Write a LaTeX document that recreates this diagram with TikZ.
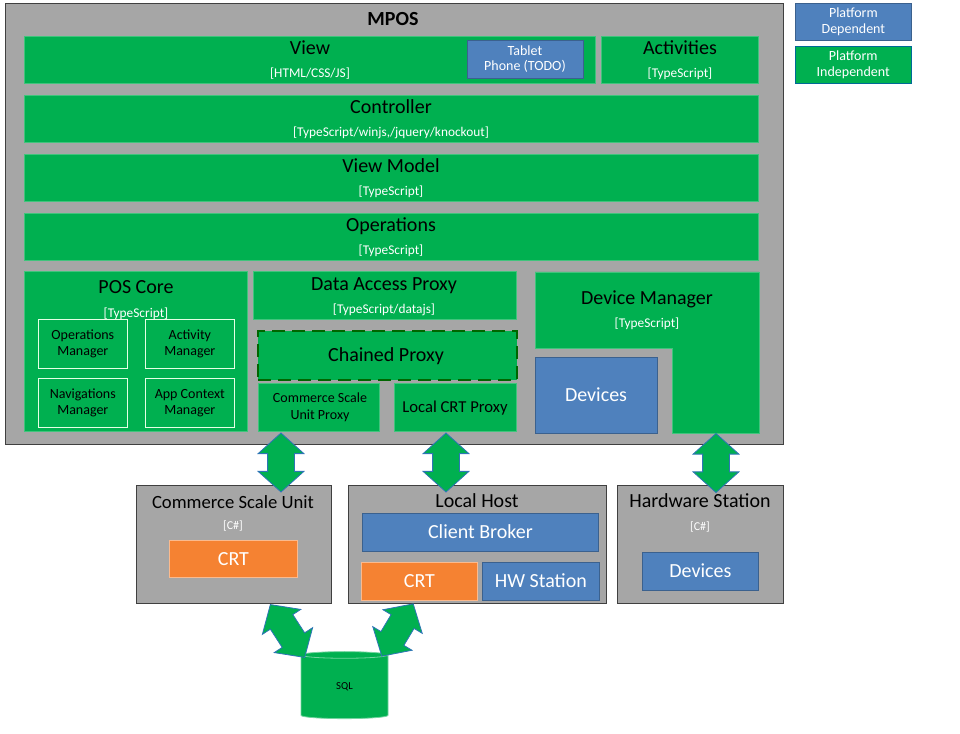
\documentclass[tikz,border=0pt]{standalone}
\usepackage{fontspec}
\setmainfont{Carlito}
\usepackage{tikz}
\usetikzlibrary{shapes.geometric, shapes.arrows}

\definecolor{msgreen}{HTML}{00B050}
\definecolor{msblue}{HTML}{4F81BD}
\definecolor{msorange}{HTML}{F58232}
\definecolor{msgray}{HTML}{A6A6A6}
\definecolor{msline}{HTML}{404040}
\definecolor{arrowline}{HTML}{2E75B6}

\newcommand{\pw}{0.75pt}
\newcommand{\blk}[6]{\node[#1, anchor=north west, minimum width=(#4-#2)*\pw, minimum height=(#5-#3)*\pw] (#6) at (#2,#3) {};}

\tikzset{
	gbox/.style={fill=msgreen, draw=msgreen!75!white, line width=0.4pt, inner sep=0pt},
	mgrbox/.style={fill=msgreen, draw=green!10!white, line width=0.5pt, inner sep=0pt},
	bbox/.style={fill=msblue, draw=msblue!75!black, line width=0.6pt, inner sep=0pt},
	obox/.style={fill=msorange, draw=msorange!55!white, line width=0.6pt, inner sep=0pt},
	graybox/.style={fill=msgray, draw=msline, line width=0.8pt, inner sep=0pt},
	ttl/.style={font=\fontsize{15}{18}\selectfont, text=black, inner sep=0pt, text height=9.5pt, text depth=0pt},
	sub/.style={font=\fontsize{10}{12}\selectfont, text=white, inner sep=0pt, text height=6.5pt, text depth=0pt},
	lbl/.style={font=\fontsize{10.5}{12}\selectfont, text=black, align=center, inner sep=0pt},
	wlbl/.style={font=\fontsize{15}{18}\selectfont, text=white, inner sep=0pt, text height=9.5pt, text depth=0pt},
	fatarrow/.style={double arrow, fill=msgreen, draw=arrowline, line width=0.6pt, inner xsep=0pt, inner ysep=13*\pw,
		double arrow head extend=9.5*\pw, double arrow tip angle=96}
}

\begin{document}
\begin{tikzpicture}[x=0.75pt, y=-0.75pt]
	\useasboundingbox (0,0) rectangle (960,734);

	\blk{graybox}{5}{3}{783}{444}{mpos}
	\node[ttl, font=\fontsize{15}{18}\bfseries] (mposT) at (393,19) {MPOS};

	\blk{gbox}{24}{36}{595}{83}{view}
	\node[ttl] (viewT) at (310,48) {View};
	\node[sub] (viewS) at (310,73) {[HTML/CSS/JS]};
	\blk{bbox}{467}{40}{583}{78}{tablet}
	\node[lbl, text=white, font=\fontsize{10.5}{11.25}\selectfont] (tabletT) at (525,59.5) {Tablet\\Phone (TODO)};
	\blk{gbox}{601}{36}{758}{83}{act}
	\node[ttl] (actT) at (680,48) {Activities};
	\node[sub] (actS) at (680,73) {[TypeScript]};

	\blk{gbox}{24}{95}{758}{142}{ctrl}
	\node[ttl] (ctrlT) at (391,107) {Controller};
	\node[sub] (ctrlS) at (391,132) {[TypeScript/winjs,/jquery/knockout]};
	\blk{gbox}{24}{154}{758}{201}{vm}
	\node[ttl] (vmT) at (391,166) {View Model};
	\node[sub] (vmS) at (391,191) {[TypeScript]};
	\blk{gbox}{24}{213}{758}{260}{ops}
	\node[ttl] (opsT) at (391,225) {Operations};
	\node[sub] (opsS) at (391,250) {[TypeScript]};

	\blk{gbox}{24}{271}{247}{431}{core}
	\node[ttl] (coreT) at (136,287) {POS Core};
	\node[sub] (coreS) at (136,313) {[TypeScript]};
	\blk{mgrbox}{38}{319}{127}{368}{opm}
	\node[lbl] at (opm) {Operations\\Manager};
	\blk{mgrbox}{145}{319}{234}{368}{actm}
	\node[lbl] at (actm) {Activity\\Manager};
	\blk{mgrbox}{38}{378}{127}{427}{navm}
	\node[lbl] at (navm) {Navigations\\Manager};
	\blk{mgrbox}{145}{378}{234}{427}{appm}
	\node[lbl] at (appm) {App Context\\Manager};

	\blk{gbox}{253}{271}{516}{319}{dap}
	\node[ttl] (dapT) at (384,284) {Data Access Proxy};
	\node[sub] (dapS) at (384,309) {[TypeScript/datajs]};
	\blk{gbox, draw=green!40!black, line width=1.5pt, dash pattern=on 10pt off 5pt}{257}{330}{516}{379}{chain}
	\node[ttl] (chainT) at (386,355) {Chained Proxy};
	\blk{gbox}{258}{383}{379}{431}{csup}
	\node[lbl, font=\fontsize{10.5}{12.5}\selectfont] (csupT) at (320,407.5) {Commerce Scale\\Unit Proxy};
	\blk{gbox}{394}{383}{516}{431}{lcrt}
	\node[ttl, font=\fontsize{12.5}{15}\selectfont, text height=8pt] (lcrtT) at (455,407) {Local CRT Proxy};

	\fill[msgreen, draw=msgreen!75!white, line width=0.4pt] (535,272) -- (759,272) -- (759,433) -- (672,433) -- (672,348) -- (535,348) -- cycle;
	\node[ttl] (dmT) at (647,298) {Device Manager};
	\node[sub] (dmS) at (647,323) {[TypeScript]};
	\blk{bbox}{535}{357}{657}{433}{dev}
	\node[wlbl] (devT) at (596,395) {Devices};

	\blk{bbox}{795}{3}{911}{40}{pdep}
	\node[lbl, text=white] at (pdep) {Platform\\Dependent};
	\blk{gbox, draw=msgreen!60!blue}{795}{46}{911}{83}{pind}
	\node[lbl, text=white] at (pind) {Platform\\Independent};

	\blk{graybox}{136}{485}{331}{603}{csu}
	\node[ttl, font=\fontsize{14}{17}\selectfont, text height=8.8pt] (csuT) at (233,503) {Commerce Scale Unit};
	\node[sub, font=\fontsize{9}{11}\selectfont, text height=6pt] (csuS) at (233,525) {[C\#]};
	\blk{obox}{169}{540}{297}{577}{crt1}
	\node[wlbl] at (crt1) {CRT};

	\blk{graybox}{348}{485}{606}{603}{lh}
	\node[ttl] (lhT) at (477,501) {Local Host};
	\blk{bbox}{362}{513}{598}{551}{cb}
	\node[wlbl] at (cb) {Client Broker};
	\blk{obox}{361}{562}{477}{600}{crt2}
	\node[wlbl] at (crt2) {CRT};
	\blk{bbox}{482}{562}{599}{600}{hws}
	\node[wlbl] at (hws) {HW Station};

	\blk{graybox}{617}{485}{783}{603}{hs}
	\node[ttl] (hsT) at (700,501) {Hardware Station};
	\node[sub, font=\fontsize{9}{11}\selectfont, text height=6pt] (hsS) at (700,526) {[C\#]};
	\blk{bbox}{642}{552}{758}{590}{hsdev}
	\node[wlbl] at (hsdev) {Devices};

	\node[cylinder, shape border rotate=90, aspect=0.4, fill=msgreen, draw=msgreen!55!white, line width=0.6pt,
		minimum width=87*\pw, minimum height=67*\pw, inner sep=0pt, font=\fontsize{8}{10}\selectfont] (sql) at (344.5,687) {SQL};

	\node[fatarrow, minimum height=59*\pw, rotate=90] (a1) at (281,462.5) {};
	\node[fatarrow, minimum height=59*\pw, rotate=90] (a2) at (446,462.5) {};
	\node[fatarrow, minimum height=59*\pw, rotate=90] (a3) at (716,463) {};
	\node[fatarrow, minimum height=63*\pw, rotate=-57] (a4) at (287.5,631) {};
	\node[fatarrow, minimum height=61*\pw, rotate=59] (a5) at (397.5,630) {};
\end{tikzpicture}
\end{document}
